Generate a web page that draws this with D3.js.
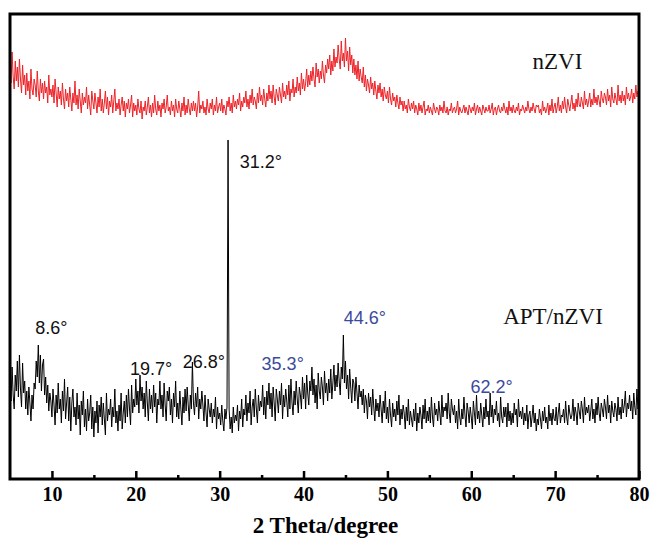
<!DOCTYPE html>
<html>
<head>
<meta charset="utf-8">
<script src="https://cdn.jsdelivr.net/npm/d3@7"></script>
<style>
  body { margin: 0; background: #fff; }
  svg { display: block; }
</style>
</head>
<body>
<svg id="chart"></svg>
<script>
// 2 theta grid, 0.125 degree steps from 5 to 80
const twoTheta = d3.range(601).map(i => 5 + i * 0.125);

// APT/nZVI intensity (a.u.), one row per degree
const aptNzvi = [
  96, 78, 112, 84, 70, 104, 88, 118,
  82, 124, 90, 72, 116, 86, 98, 70,
  88, 64, 92, 76, 58, 84, 70, 96,
  90, 118, 102, 134, 96, 124, 88, 114,
  120, 84, 102, 76, 94, 68, 86, 78,
  62, 90, 74, 54, 84, 66, 96, 70,
  80, 56, 88, 68, 100, 60, 76, 92,
  58, 82, 48, 76, 90, 62, 72, 54,
  86, 60, 74, 44, 78, 64, 88, 52,
  70, 48, 80, 58, 66, 84, 50, 72,
  42, 68, 56, 78, 46, 74, 62, 82,
  54, 76, 60, 44, 86, 58, 70, 64,
  80, 52, 72, 62, 90, 56, 68, 48,
  74, 58, 86, 50, 66, 78, 56, 84,
  62, 90, 70, 54, 94, 66, 80, 72,
  100, 74, 88, 66, 104, 78, 92, 70,
  86, 62, 98, 76, 58, 90, 70, 84,
  66, 94, 72, 86, 56, 80, 74, 98,
  70, 84, 62, 96, 74, 58, 88, 78,
  92, 64, 80, 56, 86, 72, 98, 62,
  76, 60, 88, 70, 54, 82, 66, 90,
  68, 92, 74, 58, 84, 70, 117, 76,
  64, 86, 72, 92, 60, 80, 70, 88,
  74, 58, 84, 66, 52, 80, 70, 62,
  76, 56, 70, 62, 82, 50, 72, 60,
  66, 54, 74, 58, 48, 70, 60, 72,
  339, 70, 50, 62, 46, 72, 56, 64,
  58, 74, 48, 68, 60, 80, 52, 70,
  64, 84, 58, 76, 66, 88, 54, 72,
  80, 62, 90, 70, 56, 84, 68, 78,
  72, 94, 64, 82, 60, 88, 74, 96,
  70, 86, 62, 92, 76, 58, 90, 80,
  66, 88, 74, 96, 60, 84, 72, 90,
  78, 62, 94, 70, 100, 76, 64, 88,
  74, 98, 80, 66, 92, 84, 70, 102,
  80, 96, 70, 104, 86, 74, 98, 88,
  112, 84, 100, 76, 94, 70, 106, 88,
  80, 102, 92, 74, 108, 86, 96, 78,
  100, 86, 110, 80, 96, 114, 88, 104,
  92, 116, 98, 84, 112, 100, 144, 96,
  118, 90, 104, 80, 110, 92, 76, 100,
  96, 78, 102, 86, 70, 94, 82, 88,
  74, 90, 66, 84, 78, 60, 86, 72,
  82, 64, 90, 72, 58, 80, 68, 76,
  62, 84, 70, 56, 78, 66, 88, 60,
  72, 56, 80, 64, 52, 76, 62, 70,
  58, 78, 64, 84, 54, 70, 60, 74,
  66, 50, 72, 58, 80, 54, 68, 60,
  52, 70, 58, 76, 48, 66, 56, 72,
  64, 50, 74, 60, 80, 56, 68, 58,
  72, 56, 82, 62, 52, 76, 64, 70,
  58, 78, 66, 54, 84, 62, 72, 68,
  76, 60, 86, 66, 56, 80, 70, 64,
  74, 56, 68, 50, 80, 62, 54, 70,
  60, 82, 64, 52, 76, 68, 56, 72,
  62, 50, 78, 66, 54, 84, 60, 68,
  56, 76, 64, 52, 72, 60, 80, 62,
  68, 54, 86, 62, 74, 56, 70, 64,
  78, 58, 66, 52, 82, 62, 56, 72,
  62, 72, 52, 76, 58, 68, 54, 66,
  56, 76, 64, 70, 52, 80, 62, 68,
  60, 72, 54, 66, 58, 74, 50, 64,
  68, 52, 62, 74, 56, 66, 48, 60,
  54, 70, 60, 50, 68, 58, 72, 56,
  62, 50, 74, 58, 66, 54, 70, 60,
  58, 72, 54, 66, 76, 56, 64, 62,
  70, 56, 78, 62, 54, 74, 66, 60,
  64, 80, 58, 72, 66, 54, 76, 68,
  60, 78, 70, 56, 82, 64, 72, 66,
  74, 58, 68, 80, 60, 70, 56, 76,
  64, 82, 66, 58, 76, 70, 62, 80,
  72, 60, 84, 66, 74, 56, 78, 68,
  62, 76, 70, 58, 82, 64, 72, 60,
  80, 66, 74, 88, 62, 76, 70, 84,
  68, 78, 60, 86, 72, 64, 90, 70,
  74
];

// nZVI intensity (a.u., stacked above), one row per degree
const nzvi = [
  410, 396, 427, 402, 390, 418, 398, 412,
  392, 420, 400, 386, 414, 394, 404, 384,
  406, 388, 398, 380, 410, 390, 384, 400,
  394, 382, 408, 388, 378, 400, 386, 396,
  380, 398, 386, 392, 376, 404, 384, 390,
  382, 394, 376, 400, 386, 372, 392, 380,
  388, 374, 396, 380, 370, 390, 378, 386,
  372, 392, 380, 368, 386, 376, 398, 374,
  384, 370, 390, 378, 366, 386, 374, 382,
  376, 392, 370, 384, 374, 364, 388, 378,
  370, 386, 376, 366, 382, 372, 390, 368,
  380, 366, 376, 388, 370, 382, 364, 378,
  372, 384, 366, 378, 390, 368, 376, 370,
  380, 364, 374, 382, 368, 378, 362, 376,
  370, 380, 366, 374, 384, 362, 376, 368,
  374, 364, 380, 370, 366, 378, 360, 372,
  368, 378, 364, 372, 382, 366, 374, 362,
  376, 366, 384, 370, 364, 378, 368, 374,
  362, 376, 370, 380, 366, 372, 384, 368,
  372, 364, 378, 368, 374, 362, 380, 370,
  366, 378, 370, 362, 376, 368, 382, 364,
  374, 366, 380, 370, 364, 376, 368, 378,
  368, 376, 362, 372, 388, 366, 374, 370,
  378, 366, 372, 364, 380, 370, 366, 376,
  370, 380, 364, 374, 368, 382, 366, 372,
  376, 368, 380, 366, 374, 370, 364, 378,
  372, 382, 368, 376, 366, 384, 372, 378,
  370, 380, 374, 386, 368, 378, 372, 382,
  376, 388, 372, 380, 370, 384, 376, 390,
  374, 382, 378, 370, 386, 376, 392, 378,
  384, 374, 390, 380, 372, 386, 378, 394,
  380, 388, 376, 394, 382, 374, 390, 384,
  378, 392, 384, 376, 396, 382, 388, 380,
  394, 384, 398, 378, 390, 386, 400, 382,
  392, 386, 402, 388, 396, 384, 406, 390,
  400, 388, 396, 410, 392, 404, 394, 408,
  398, 412, 400, 392, 416, 402, 410, 396,
  408, 400, 418, 404, 396, 414, 406, 420,
  410, 424, 404, 418, 408, 430, 412, 422,
  416, 434, 420, 410, 438, 418, 426, 412,
  441, 418, 428, 408, 432, 414, 424, 406,
  420, 404, 414, 400, 418, 398, 410, 402,
  396, 412, 392, 404, 388, 400, 394, 386,
  402, 390, 396, 384, 398, 388, 380, 394,
  386, 396, 382, 390, 378, 392, 384, 380,
  388, 376, 392, 380, 374, 386, 378, 382,
  372, 384, 376, 370, 382, 374, 378, 368,
  378, 370, 374, 366, 380, 372, 368, 376,
  370, 378, 366, 374, 370, 364, 376, 368,
  374, 366, 372, 378, 364, 370, 368, 374,
  366, 372, 368, 364, 376, 370, 366, 372,
  370, 364, 374, 368, 372, 366, 378, 368,
  366, 372, 364, 370, 368, 376, 366, 370,
  372, 366, 370, 378, 364, 372, 368, 366,
  370, 374, 366, 372, 368, 364, 374, 370,
  366, 372, 368, 376, 364, 370, 374, 366,
  372, 368, 364, 374, 370, 366, 372, 368,
  368, 374, 366, 370, 376, 364, 370, 372,
  364, 370, 374, 368, 366, 372, 368, 376,
  370, 366, 372, 364, 378, 368, 372, 366,
  374, 368, 366, 372, 368, 376, 364, 370,
  368, 374, 370, 366, 372, 368, 378, 370,
  366, 372, 368, 376, 370, 366, 374, 372,
  374, 366, 370, 364, 378, 368, 372, 366,
  370, 376, 364, 374, 368, 380, 366, 372,
  376, 366, 372, 382, 368, 374, 366, 378,
  370, 382, 372, 366, 380, 374, 368, 376,
  384, 370, 376, 368, 380, 372, 386, 374,
  372, 382, 376, 370, 388, 374, 380, 372,
  378, 386, 372, 380, 374, 390, 376, 382,
  374, 384, 378, 372, 388, 380, 376, 386,
  382, 374, 390, 378, 384, 372, 392, 380,
  376, 386, 380, 374, 394, 378, 384, 376,
  388, 378, 384, 374, 392, 380, 386, 378,
  382, 390, 376, 386, 380, 394, 382, 388,
  386
];

const xTicks = [10, 20, 30, 40, 50, 60, 70, 80];
const xMinorTicks = [15, 25, 35, 45, 55, 65, 75];

// peak labels: text, 2theta anchor, intensity anchor, colour
const peakLabels = [
  { text: '8.6°', x: 8.0, y: 145, color: '#111' },
  { text: '19.7°', x: 19.3, y: 104, color: '#111' },
  { text: '26.8°', x: 25.6, y: 111, color: '#111' },
  { text: '31.2°', x: 32.4, y: 311, color: '#111' },
  { text: '35.3°', x: 35.0, y: 109, color: '#3b4a9c' },
  { text: '44.6°', x: 44.8, y: 155, color: '#3b4a9c' },
  { text: '62.2°', x: 59.9, y: 86, color: '#3b4a9c' }
];

const seriesNames = ['nZVI', 'APT/nZVI'];

const width = 651, height = 540;
const margin = { top: 14, right: 12, bottom: 61, left: 10 };

const svg = d3.select('#chart')
  .attr('width', width)
  .attr('height', height);

const x = d3.scaleLinear()
  .domain([5, 80])
  .range([margin.left, width - margin.right]);

const y = d3.scaleLinear()
  .domain([0, 465])
  .range([height - margin.bottom, margin.top]);

svg.append('clipPath').attr('id', 'plot')
  .append('rect')
  .attr('x', margin.left).attr('y', margin.top)
  .attr('width', x(80) - x(5)).attr('height', y(0) - y(465));

const line = d3.line()
  .x(d => x(d[0]))
  .y(d => y(d[1]));

svg.append('path')
  .datum(twoTheta.map((t, i) => [t, nzvi[i]]))
  .attr('clip-path', 'url(#plot)')
  .attr('fill', 'none')
  .attr('stroke', '#ec2328')
  .attr('stroke-width', 1)
  .attr('d', line);

svg.append('path')
  .datum(twoTheta.map((t, i) => [t, aptNzvi[i]]))
  .attr('clip-path', 'url(#plot)')
  .attr('fill', 'none')
  .attr('stroke', '#000')
  .attr('stroke-width', 1)
  .attr('d', line);

// axes (ticks point inward)
const xAxis = svg.append('g')
  .attr('transform', `translate(0,${y(0)})`)
  .call(d3.axisBottom(x).tickValues(xTicks).tickSize(-8).tickPadding(8));
xAxis.select('.domain').remove();
xAxis.selectAll('line').attr('stroke-width', 2.5);
xAxis.selectAll('text')
  .attr('font-family', '"Liberation Serif", "Times New Roman", serif')
  .attr('font-weight', 'bold')
  .attr('font-size', 20)
  .attr('fill', '#000');

const xMinor = svg.append('g')
  .attr('transform', `translate(0,${y(0)})`)
  .call(d3.axisBottom(x).tickValues(xMinorTicks).tickSize(-4).tickFormat(''));
xMinor.select('.domain').remove();
xMinor.selectAll('line').attr('stroke-width', 2.5);

svg.append('rect')
  .attr('x', x(5)).attr('y', y(465))
  .attr('width', x(80) - x(5)).attr('height', y(0) - y(465))
  .attr('fill', 'none')
  .attr('stroke', '#000')
  .attr('stroke-width', 3);

svg.append('text')
  .attr('x', (x(5) + x(80)) / 2 + 1)
  .attr('y', 533)
  .attr('text-anchor', 'middle')
  .attr('font-family', '"Liberation Serif", "Times New Roman", serif')
  .attr('font-weight', 'bold')
  .attr('font-size', 23)
  .text('2 Theta/degree');

// series names
svg.append('text')
  .attr('x', x(67.3)).attr('y', y(410))
  .attr('font-family', '"Liberation Serif", "Times New Roman", serif')
  .attr('font-size', 23)
  .attr('fill', '#111')
  .text(seriesNames[0]);

svg.append('text')
  .attr('x', x(63.8)).attr('y', y(155))
  .attr('font-family', '"Liberation Serif", "Times New Roman", serif')
  .attr('font-size', 23)
  .attr('fill', '#111')
  .text(seriesNames[1]);

svg.selectAll('.peak')
  .data(peakLabels)
  .join('text')
  .attr('class', 'peak')
  .attr('x', d => x(d.x))
  .attr('y', d => y(d.y))
  .attr('font-family', '"Liberation Sans", Arial, sans-serif')
  .attr('font-size', 18)
  .attr('fill', d => d.color)
  .text(d => d.text);
</script>
</body>
</html>
